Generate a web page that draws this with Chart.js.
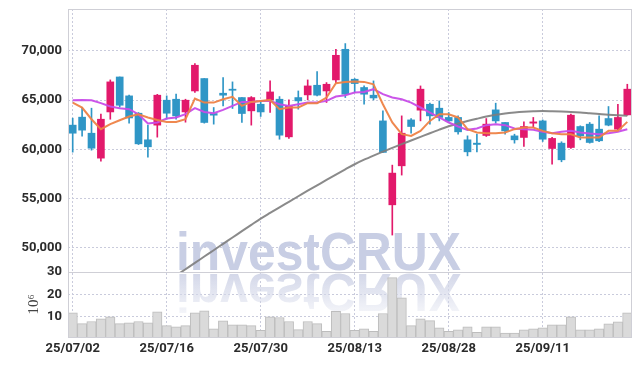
<!DOCTYPE html>
<html>
<head>
<meta charset="utf-8">
<script src="https://cdn.jsdelivr.net/npm/chart.js@4.4.0/dist/chart.umd.min.js"></script>
<style>
  html, body { margin: 0; padding: 0; background: #fff; }
  #wrap { width: 642px; height: 366px; position: relative; }
</style>
</head>
<body>
<div id="wrap"><canvas id="stockChart"></canvas></div>
<script>
// trading days (yy/mm/dd)
const dates = [
  '25/07/02','25/07/03','25/07/04','25/07/07','25/07/08','25/07/09','25/07/10','25/07/11','25/07/14','25/07/15',
  '25/07/16','25/07/17','25/07/18','25/07/21','25/07/22','25/07/23','25/07/24','25/07/25','25/07/28','25/07/29',
  '25/07/30','25/07/31','25/08/01','25/08/04','25/08/05','25/08/06','25/08/07','25/08/08','25/08/11','25/08/12',
  '25/08/13','25/08/14','25/08/18','25/08/19','25/08/20','25/08/21','25/08/22','25/08/25','25/08/26','25/08/27',
  '25/08/28','25/08/29','25/09/01','25/09/02','25/09/03','25/09/04','25/09/05','25/09/08','25/09/09','25/09/10',
  '25/09/11','25/09/12','25/09/15','25/09/16','25/09/17','25/09/18','25/09/19','25/09/22','25/09/23','25/09/24'
];

const openP = [
  62470, 63280, 61650, 59120, 63810, 67360, 65440, 63680, 60980, 62470,
  65000, 65100, 63810, 65940, 67200, 63650, 65710, 66120, 65270, 63920,
  64590, 65030, 65100, 61280, 65270, 65540, 66520, 65940, 67060, 70170,
  67130, 66290, 65510, 62900, 54380, 58340, 63000, 63990, 64590, 64190,
  63250, 63250, 60980, 60640, 61420, 64020, 62740, 61380, 61220, 62670,
  62900, 60100, 60640, 60200, 62330, 62570, 62060, 63140, 62060, 63510
];
const closeP = [
  61650, 61960, 60130, 63070, 66860, 64490, 63200, 60570, 60270, 65510,
  63680, 63410, 65000, 68550, 62740, 63480, 65510, 66010, 63650, 65270,
  63810, 65840, 61450, 64420, 64930, 66450, 65510, 66620, 69560, 65610,
  66690, 65610, 65230, 59700, 57600, 61650, 62330, 66120, 63410, 63250,
  62900, 61790, 59760, 60510, 62570, 62900, 61890, 60980, 62330, 62800,
  61040, 61120, 58950, 63480, 61380, 60710, 60880, 62470, 63250, 66120
];
const highP = [
  63180, 64290, 64190, 63580, 67060, 67360, 65510, 63750, 62470, 65600,
  65440, 65610, 65100, 68720, 67200, 64260, 67300, 66860, 65270, 65370,
  64830, 66960, 65370, 65030, 65940, 67060, 67910, 66790, 70170, 70750,
  67200, 66450, 66960, 63910, 58410, 63410, 63140, 66450, 64700, 64930,
  63750, 63410, 61380, 61550, 63140, 64700, 62740, 61550, 62800, 63250,
  63000, 61220, 60780, 63580, 62400, 62740, 63410, 64360, 64590, 66620
];
const lowP = [
  59730, 61350, 59930, 58820, 63070, 64290, 62670, 60500, 59220, 61250,
  63070, 63070, 62770, 65780, 62670, 62570, 64420, 64160, 62740, 62470,
  63350, 63750, 61040, 61120, 64090, 65030, 65440, 64770, 66790, 65270,
  65780, 64590, 65030, 59700, 51310, 57400, 61650, 62900, 62570, 62900,
  62740, 61550, 59350, 59760, 61320, 62670, 61550, 60640, 60300, 62230,
  60810, 58510, 58750, 60100, 60980, 60640, 60780, 62400, 62000, 63480
];

// moving averages as drawn on the chart
const maShort = [
  64760, 64260, 63070, 62060, 62570, 62970, 63350, 63580, 63250, 63000,
  62800, 62800, 63070, 65170, 64760, 64760, 65100, 65340, 64420, 64830,
  64930, 65030, 64090, 64260, 64260, 64700, 64700, 65270, 66720, 66860,
  66900, 66860, 66620, 64590, 62740, 61550, 61380, 61890, 62900, 63580,
  63580, 63250, 62060, 61720, 61650, 61650, 61720, 62060, 62230, 62230,
  61890, 61650, 61550, 61550, 61220, 61220, 61220, 61890, 61890, 62800
];
const maMid = [
  65000, 65030, 65000, 64700, 64360, 64190, 64090, 63580, 62640, 62740,
  63140, 63250, 63580, 64190, 63810, 63680, 64020, 64420, 64830, 64830,
  64930, 64930, 64590, 64420, 64590, 64760, 64760, 64930, 65370, 65510,
  65780, 65840, 66120, 65610, 65270, 65100, 64760, 64260, 63750, 63250,
  62740, 62330, 61990, 62130, 62470, 62570, 62470, 62130, 62060, 61990,
  61790, 61650, 61790, 61890, 61720, 61620, 61550, 61650, 61790, 62060
];
const maLong = [
  null, null, null, null, null, null, null, null, null, 45910,
  46555, 47200, 47840, 48480, 49130, 49770, 50420, 51060, 51710, 52350,
  52980, 53560, 54130, 54690, 55250, 55810, 56360, 56910, 57450, 57980,
  58500, 58960, 59380, 59780, 60160, 60540, 60910, 61280, 61650, 62010,
  62350, 62640, 62890, 63120, 63340, 63530, 63660, 63750, 63820, 63870,
  63900, 63880, 63850, 63810, 63750, 63670, 63590, 63530, 63470, 63410
];

// volume, millions of shares
const volume = [
  11.8, 7.0, 7.9, 9.1, 10.0, 7.0, 7.3, 7.9, 7.3, 12.2,
  6.1, 5.5, 6.1, 11.8, 12.7, 4.6, 8.2, 6.4, 6.4, 6.1,
  4.0, 10.0, 9.7, 7.9, 4.3, 7.9, 7.0, 3.5, 12.4, 11.5,
  4.0, 4.6, 3.5, 11.5, 27.5, 18.5, 6.1, 9.1, 8.3, 5.1,
  3.5, 4.2, 5.5, 3.1, 5.5, 5.5, 2.8, 2.8, 4.2, 4.6,
  5.1, 6.4, 6.4, 10.0, 4.2, 4.2, 4.6, 6.9, 7.8, 11.8
];

const priceTicks = [50000, 55000, 60000, 65000, 70000];
const volumeTicks = [10, 20, 30];
const labelEvery = 10;

const UP = '#e2196b';
const DOWN = '#2f96c6';
const candleColor = ctx => closeP[ctx.dataIndex] >= openP[ctx.dataIndex] ? UP : DOWN;

const tickFont = { family: 'Roboto, "Noto Sans", sans-serif', size: 13, weight: 'bold' };
const gridStyle = { color: '#c9cbdc', lineWidth: 1, drawTicks: false };

// frame, panel divider and the watermark
const framePlugin = {
  id: 'frame',
  beforeDatasetsDraw(chart) {
    const { ctx, chartArea, scales } = chart;
    const baseY = scales.y.bottom - 2;
    const x = chartArea.left + 108;
    ctx.save();
    ctx.font = 'bold 54px "Liberation Sans", Arial, sans-serif';
    ctx.textBaseline = 'alphabetic';
    ctx.fillStyle = '#c8cee4';
    ctx.fillText('investCRUX', x, baseY, 285);
    // reflection
    ctx.beginPath();
    ctx.rect(chartArea.left, scales.y.bottom, chartArea.width, scales.yv.bottom - scales.y.bottom);
    ctx.clip();
    ctx.translate(0, 2 * baseY + 4);
    ctx.scale(1, -1);
    const g = ctx.createLinearGradient(0, baseY, 0, baseY - 48);
    g.addColorStop(0, 'rgba(212,216,233,1)');
    g.addColorStop(1, 'rgba(212,216,233,0.1)');
    ctx.fillStyle = g;
    ctx.fillText('investCRUX', x, baseY, 285);
    ctx.restore();
  },
  afterDraw(chart) {
    const { ctx, chartArea, scales } = chart;
    ctx.save();
    ctx.strokeStyle = '#cfcfd6';
    ctx.lineWidth = 1;
    ctx.strokeRect(chartArea.left + 0.5, chartArea.top + 0.5, chartArea.width - 1, chartArea.height);
    ctx.beginPath();
    ctx.moveTo(chartArea.left, Math.round(scales.y.bottom) + 0.5);
    ctx.lineTo(chartArea.right, Math.round(scales.y.bottom) + 0.5);
    ctx.stroke();
    ctx.restore();
  }
};

function fixY(scale) {
  scale.width = 68;
  scale.paddingTop = 0;
  scale.paddingBottom = 0;
}

const ctx = document.getElementById('stockChart').getContext('2d');
const stockChart = new Chart(ctx, {
  data: {
    labels: dates,
    datasets: [
      {
        type: 'line', label: 'MA short', data: maShort, yAxisID: 'y',
        borderColor: 'rgba(238,130,70,0.95)', borderWidth: 2, pointRadius: 0, tension: 0, order: 0
      },
      {
        type: 'line', label: 'MA mid', data: maMid, yAxisID: 'y',
        borderColor: 'rgba(200,76,232,0.95)', borderWidth: 2, pointRadius: 0, tension: 0, order: 0
      },
      {
        type: 'line', label: 'MA long', data: maLong, yAxisID: 'y',
        borderColor: 'rgba(125,125,125,0.9)', borderWidth: 2, pointRadius: 0,
        cubicInterpolationMode: 'monotone', order: 0
      },
      {
        type: 'bar', label: 'wick', yAxisID: 'y', grouped: false, order: 2,
        data: dates.map((d, i) => [lowP[i], highP[i]]),
        backgroundColor: candleColor, barThickness: 1
      },
      {
        type: 'bar', label: 'body', yAxisID: 'y', grouped: false, order: 1,
        data: dates.map((d, i) => [openP[i], closeP[i]]),
        backgroundColor: candleColor, barThickness: 7, minBarLength: 1
      },
      {
        type: 'bar', label: 'volume', yAxisID: 'yv', grouped: false, order: 3,
        data: volume,
        backgroundColor: '#dadada', borderColor: '#bdbdbd', borderWidth: 1,
        barPercentage: 1, categoryPercentage: 1
      }
    ]
  },
  options: {
    responsive: true,
    maintainAspectRatio: false,
    animation: false,
    events: [],
    layout: { padding: { top: 9, right: 10, left: 0, bottom: 0 } },
    plugins: {
      legend: { display: false },
      tooltip: { enabled: false }
    },
    scales: {
      x: {
        type: 'category',
        offset: true,
        border: { display: false, dash: [2, 2] },
        grid: Object.assign({ offset: false }, gridStyle),
        afterBuildTicks: scale => {
          scale.ticks = scale.ticks.filter((t, i) => i % labelEvery === 0);
        },
        afterFit: scale => {
          scale.height = 29;
          scale.paddingLeft = 0;
          scale.paddingRight = 0;
        },
        ticks: {
          autoSkip: false, maxRotation: 0, padding: 4,
          color: '#2b2b2b', font: tickFont
        }
      },
      yv: {
        type: 'linear',
        position: 'left',
        stack: 'panels',
        stackWeight: 65,
        min: 1,
        max: 30,
        border: { display: false, dash: [2, 2] },
        grid: gridStyle,
        afterBuildTicks: scale => { scale.ticks = volumeTicks.map(v => ({ value: v })); },
        afterFit: fixY,
        ticks: { autoSkip: false, padding: 6, color: '#2b2b2b', font: tickFont },
        title: {
          display: true, text: '10⁶', color: '#444',
          font: { family: '"Liberation Serif", "DejaVu Serif", serif', size: 15 },
          padding: { top: 25, bottom: 0 }
        }
      },
      y: {
        type: 'linear',
        position: 'left',
        stack: 'panels',
        stackWeight: 263,
        min: 47560,
        max: 74260,
        border: { display: false, dash: [2, 2] },
        grid: gridStyle,
        afterBuildTicks: scale => { scale.ticks = priceTicks.map(v => ({ value: v })); },
        afterFit: fixY,
        ticks: { autoSkip: false, padding: 6, color: '#2b2b2b', font: tickFont }
      }
    }
  },
  plugins: [framePlugin]
});
</script>
</body>
</html>
